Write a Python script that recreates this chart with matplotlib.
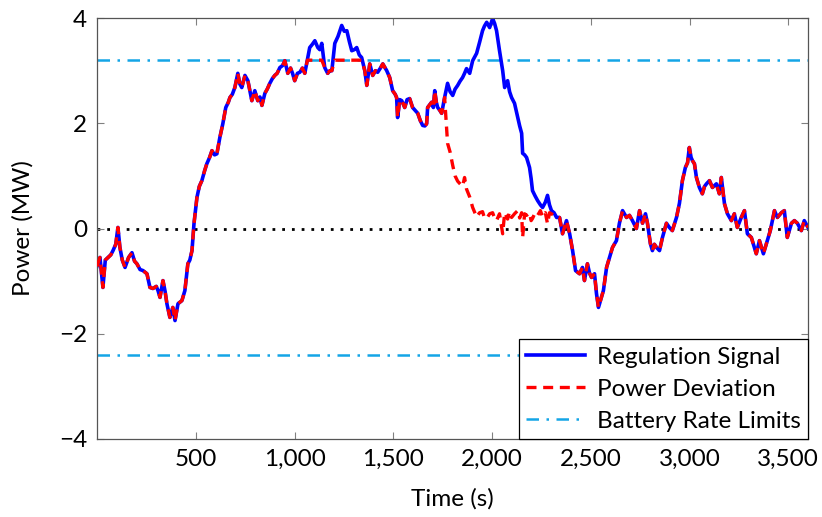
import matplotlib
matplotlib.use("Agg")
import matplotlib.pyplot as plt

plt.rcParams["font.family"] = ["Lato", "DejaVu Sans"]

# Time axis (s) and the two traces (MW)
time_s = [
    0, 15, 30, 42, 56, 70, 81, 95, 106, 116,
    128, 142, 160, 177, 190, 202, 218, 233, 253, 268,
    283, 300, 309, 319, 334, 345, 354, 369, 384, 395,
    410, 430, 445, 460, 470, 481, 491, 506, 518, 531,
    545, 556, 570, 582, 595, 607, 622, 637, 652, 665,
    673, 685, 698, 713, 723, 733, 749, 764, 775, 784,
    799, 814, 825, 835, 850, 862, 875, 888, 900, 912,
    926, 940, 951, 966, 980, 990, 1001, 1015, 1027, 1040,
    1052, 1065, 1077, 1090, 1103, 1118, 1128, 1138, 1153, 1168,
    1179, 1189, 1204, 1220, 1239, 1252, 1265, 1278, 1290, 1303,
    1315, 1328, 1340, 1356, 1366, 1381, 1396, 1410, 1421, 1435,
    1447, 1467, 1482, 1497, 1510, 1517, 1522, 1533, 1543, 1558,
    1570, 1583, 1598, 1610, 1624, 1637, 1649, 1660, 1669, 1674,
    1684, 1694, 1703, 1710, 1718, 1725, 1735, 1745, 1760, 1775,
    1788, 1801, 1813, 1826, 1838, 1851, 1861, 1871, 1887, 1902,
    1922, 1937, 1952, 1962, 1973, 1988, 2003, 2013, 2023, 2038,
    2054, 2064, 2079, 2089, 2099, 2114, 2130, 2140, 2150, 2155,
    2165, 2175, 2190, 2198, 2205, 2218, 2231, 2245, 2256, 2270,
    2281, 2291, 2301, 2314, 2327, 2342, 2357, 2377, 2393, 2408,
    2423, 2443, 2458, 2468, 2483, 2494, 2504, 2519, 2529, 2539,
    2554, 2564, 2580, 2595, 2610, 2630, 2645, 2661, 2681, 2696,
    2711, 2731, 2747, 2762, 2777, 2787, 2802, 2812, 2822, 2833,
    2848, 2863, 2883, 2898, 2913, 2934, 2949, 2964, 2979, 2990,
    2999, 3008, 3015, 3025, 3035, 3050, 3065, 3076, 3086, 3101,
    3116, 3136, 3151, 3161, 3177, 3192, 3212, 3227, 3242, 3262,
    3278, 3293, 3313, 3338, 3354, 3374, 3389, 3409, 3430, 3445,
    3465, 3480, 3495, 3516, 3531, 3546, 3566, 3581, 3600,
]

regulation_mw = [
    -0.72, -0.55, -1.12, -0.60, -0.55, -0.50, -0.42, -0.30, 0.02, -0.36,
    -0.60, -0.74, -0.55, -0.46, -0.62, -0.67, -0.78, -0.80, -0.86, -1.12,
    -1.14, -1.10, -1.18, -1.31, -0.99, -1.20, -1.43, -1.69, -1.50, -1.75,
    -1.43, -1.37, -1.18, -0.67, -0.60, -0.42, 0.09, 0.59, 0.80, 0.91,
    1.10, 1.23, 1.35, 1.48, 1.40, 1.42, 1.73, 1.99, 2.30, 2.40,
    2.49, 2.55, 2.68, 2.95, 2.75, 2.68, 2.91, 2.81, 2.60, 2.43,
    2.62, 2.43, 2.50, 2.34, 2.57, 2.65, 2.76, 2.85, 2.91, 2.95,
    3.06, 3.10, 3.19, 2.95, 3.05, 2.95, 2.81, 2.95, 2.97, 3.05,
    2.95, 3.20, 3.44, 3.50, 3.57, 3.44, 3.40, 3.52, 3.06, 2.95,
    3.00, 3.00, 3.52, 3.65, 3.86, 3.75, 3.76, 3.55, 3.38, 3.40,
    3.44, 3.30, 3.25, 3.00, 2.72, 3.13, 2.91, 3.00, 2.97, 3.05,
    3.13, 3.00, 2.87, 2.62, 2.55, 2.49, 2.11, 2.45, 2.43, 2.30,
    2.45, 2.47, 2.30, 2.25, 2.19, 2.05, 1.96, 1.95, 1.99, 2.30,
    2.35, 2.40, 2.30, 2.62, 2.40, 2.30, 2.25, 2.19, 2.49, 2.76,
    2.60, 2.53, 2.65, 2.72, 2.80, 2.87, 2.95, 3.04, 2.95, 3.19,
    3.33, 3.54, 3.76, 3.85, 3.92, 3.82, 3.99, 3.90, 3.76, 3.38,
    3.00, 2.68, 2.81, 2.60, 2.49, 2.38, 2.11, 1.95, 1.81, 1.43,
    1.40, 1.35, 1.16, 0.95, 0.72, 0.62, 0.53, 0.45, 0.40, 0.50,
    0.63, 0.45, 0.34, 0.30, 0.21, 0.21, -0.10, 0.15, -0.10, -0.42,
    -0.80, -0.86, -0.74, -0.99, -0.67, -0.85, -0.93, -0.86, -1.24, -1.50,
    -1.31, -1.18, -0.74, -0.55, -0.36, -0.23, 0.10, 0.34, 0.21, 0.25,
    0.15, 0.00, 0.34, 0.10, 0.28, 0.10, -0.29, -0.42, -0.30, -0.36,
    -0.42, -0.17, 0.10, 0.02, -0.04, 0.21, 0.48, 0.91, 1.16, 1.25,
    1.54, 1.35, 1.29, 1.23, 0.97, 0.78, 0.66, 0.80, 0.85, 0.91,
    0.78, 0.85, 0.66, 0.97, 0.47, 0.28, 0.15, 0.28, 0.02, 0.21,
    0.34, -0.10, -0.17, -0.48, -0.23, -0.48, -0.29, -0.04, 0.34, 0.21,
    0.30, 0.34, -0.17, 0.10, 0.15, 0.10, -0.04, 0.15, 0.02,
]

deviation_mw = [
    -0.72, -0.55, -1.12, -0.60, -0.55, -0.50, -0.42, -0.30, 0.02, -0.36,
    -0.60, -0.74, -0.55, -0.46, -0.62, -0.67, -0.78, -0.80, -0.86, -1.12,
    -1.14, -1.10, -1.18, -1.31, -0.99, -1.20, -1.43, -1.69, -1.50, -1.75,
    -1.43, -1.37, -1.18, -0.67, -0.60, -0.42, 0.09, 0.59, 0.80, 0.91,
    1.10, 1.23, 1.35, 1.48, 1.40, 1.42, 1.73, 1.99, 2.30, 2.40,
    2.49, 2.55, 2.68, 2.95, 2.75, 2.68, 2.91, 2.81, 2.60, 2.43,
    2.62, 2.43, 2.50, 2.34, 2.57, 2.65, 2.76, 2.85, 2.91, 2.95,
    3.06, 3.10, 3.19, 2.95, 3.05, 2.95, 2.81, 2.95, 2.97, 3.05,
    2.95, 3.20, 3.20, 3.20, 3.20, 3.20, 3.20, 3.20, 3.06, 2.95,
    3.00, 3.00, 3.20, 3.20, 3.20, 3.20, 3.20, 3.20, 3.20, 3.20,
    3.20, 3.20, 3.20, 3.00, 2.72, 3.13, 2.91, 3.00, 2.97, 3.05,
    3.13, 3.00, 2.87, 2.62, 2.55, 2.49, 2.11, 2.45, 2.43, 2.30,
    2.45, 2.47, 2.30, 2.25, 2.19, 2.05, 1.96, 1.95, 1.99, 2.30,
    2.35, 2.40, 2.30, 2.62, 2.40, 2.30, 2.25, 2.19, 2.49, 1.62,
    1.45, 1.20, 1.00, 0.90, 0.85, 0.80, 0.97, 0.75, 0.60, 0.40,
    0.22, 0.30, 0.32, 0.20, 0.19, 0.28, 0.30, 0.20, 0.15, 0.28,
    -0.10, 0.30, 0.18, 0.32, 0.21, 0.28, 0.34, 0.20, 0.30, -0.17,
    0.28, 0.25, 0.30, 0.15, 0.19, 0.30, 0.25, 0.34, 0.22, 0.30,
    0.09, 0.30, 0.28, 0.25, 0.21, 0.21, -0.10, 0.15, -0.10, -0.42,
    -0.80, -0.86, -0.74, -0.99, -0.67, -0.85, -0.93, -0.86, -1.24, -1.50,
    -1.31, -1.18, -0.74, -0.55, -0.36, -0.23, 0.10, 0.34, 0.21, 0.25,
    0.15, 0.00, 0.34, 0.10, 0.28, 0.10, -0.29, -0.42, -0.30, -0.36,
    -0.42, -0.17, 0.10, 0.02, -0.04, 0.21, 0.48, 0.91, 1.16, 1.25,
    1.54, 1.35, 1.29, 1.23, 0.97, 0.78, 0.66, 0.80, 0.85, 0.91,
    0.78, 0.85, 0.66, 0.97, 0.47, 0.28, 0.15, 0.28, 0.02, 0.21,
    0.34, -0.10, -0.17, -0.48, -0.23, -0.48, -0.29, -0.04, 0.34, 0.21,
    0.30, 0.34, -0.17, 0.10, 0.15, 0.10, -0.04, 0.15, 0.02,
]

rate_limits_mw = [3.2, -2.4]
x_ticks = [500, 1000, 1500, 2000, 2500, 3000, 3500]
y_ticks = [-4, -2, 0, 2, 4]

assert len(time_s) == len(regulation_mw) == len(deviation_mw)

FS = 17.5

fig = plt.figure(figsize=(8.22, 5.17), dpi=100)
ax = fig.add_axes([0.118, 0.151, 0.865, 0.814])

ax.axhline(0, color="black", linestyle=(0, (1, 2.5)), linewidth=2.0, zorder=1)
ax.plot(time_s, regulation_mw, color="#0000ff", linewidth=2.6,
        label="Regulation Signal", zorder=2)
ax.plot(time_s, deviation_mw, color="#ff0000", linewidth=2.4,
        linestyle=(0, (3, 2)), label="Power Deviation", zorder=3)
for i, lim in enumerate(rate_limits_mw):
    ax.axhline(lim, color="#14a5e6", linewidth=1.8,
               linestyle=(0, (5, 3, 1, 3)),
               label="Battery Rate Limits" if i == 0 else None, zorder=1)

ax.set_xlim(0, 3600)
ax.set_ylim(-4, 4)
ax.set_xticks(x_ticks)
ax.set_xticklabels([f"{t:,}" for t in x_ticks])
ax.set_yticks(y_ticks)
ax.set_yticklabels([f"{v}".replace("-", "\u2212") for v in y_ticks])
ax.tick_params(direction="in", top=True, right=True, length=5,
               width=0.8, color="#808080", labelsize=FS, pad=7)
for sp in ax.spines.values():
    sp.set_color("#555555")
    sp.set_linewidth(0.9)

ax.set_xlabel("Time (s)", fontsize=FS, labelpad=13)
ax.set_ylabel("Power (MW)", fontsize=FS, labelpad=18)

leg = ax.legend(loc="lower right", fontsize=FS, frameon=True, fancybox=False,
                framealpha=1.0, edgecolor="black", borderaxespad=0.0,
                handlelength=2.4, borderpad=0.3, labelspacing=0.45,
                handletextpad=0.5)
leg.get_frame().set_linewidth(0.9)

fig.savefig("out.png", dpi=100)
